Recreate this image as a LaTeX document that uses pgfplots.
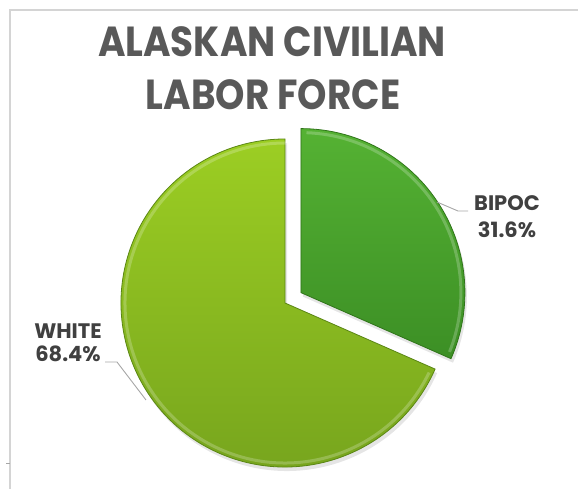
\documentclass[border=0pt]{standalone}
\usepackage{pgfplots}
\pgfplotsset{compat=1.18}
\usepackage{pgfplotstable}
\usepackage{fontspec}
\setmainfont{Poppins}
\definecolor{titlegray}{HTML}{595959}
\definecolor{labelgray}{HTML}{404040}
\definecolor{framegray}{HTML}{D4D4D4}
\definecolor{leadergray}{HTML}{A6A6A6}
\definecolor{btop}{HTML}{55B233}
\definecolor{bbot}{HTML}{3C8F25}
\definecolor{bedge}{HTML}{2F7419}
\definecolor{wtop}{HTML}{9CCE23}
\definecolor{wbot}{HTML}{75A31D}
\definecolor{wedge}{HTML}{5A8614}

\pgfplotstableread{
label value
BIPOC 31.6
WHITE 68.4
}\piedata

\begin{document}%
\begin{tikzpicture}
\pgfplotstablegetelem{0}{value}\of\piedata \let\vb\pgfplotsretval
\pgfplotstablegetelem{1}{value}\of\piedata \let\vw\pgfplotsretval
\pgfmathsetmacro\aend{90-3.6*\vb}
\pgfmathsetmacro\amid{90-1.8*\vb}
\pgfmathsetmacro\wend{\aend-3.6*\vw}
\def\cx{285}\def\cy{186}\def\r{164}\def\ex{19}
\pgfmathsetmacro\bx{\cx+\ex*cos(\amid)}
\pgfmathsetmacro\by{\cy+\ex*sin(\amid)}
\begin{axis}[
  scale only axis, width=578pt, height=489pt,
  xmin=0, xmax=578, ymin=0, ymax=489,
  hide axis, clip=false, anchor=south west, at={(0pt,0pt)},
]
% shadows
\addplot[draw=none, fill=black, opacity=0.10, shift={(2pt,-4pt)}] coordinates {(\bx,\by)} -- ++(90:\r pt) arc[start angle=90, end angle=\aend, radius=\r pt] -- cycle;
\addplot[draw=none, fill=black, opacity=0.10, shift={(2pt,-4pt)}] coordinates {(\cx,\cy)} -- ++(\aend:\r pt) arc[start angle=\aend, end angle=\wend, radius=\r pt] -- cycle;
% BIPOC wedge
\addplot[draw=bedge, line width=0.8pt, top color=btop, bottom color=bbot] coordinates {(\bx,\by)} -- ++(90:\r pt) arc[start angle=90, end angle=\aend, radius=\r pt] -- cycle;
% WHITE wedge
\addplot[draw=wedge, line width=0.8pt, top color=wtop, bottom color=wbot] coordinates {(\cx,\cy)} -- ++(\aend:\r pt) arc[start angle=\aend, end angle=\wend, radius=\r pt] -- cycle;
% bevel highlights along the arcs
\addplot[draw=white, draw opacity=0.22, line width=3pt] coordinates {(\bx,\by)} ++(88:\r pt-4pt) arc[start angle=88, end angle=\aend+2, radius=\r pt-4pt];
\addplot[draw=white, draw opacity=0.22, line width=3pt] coordinates {(\cx,\cy)} ++(\aend-2:\r pt-4pt) arc[start angle=\aend-2, end angle=\wend-2, radius=\r pt-4pt];
% leader lines
\addplot[leadergray, line width=0.9pt] coordinates {(437,287) (458,278) (468,278)};
\addplot[leadergray, line width=0.9pt] coordinates {(105,127) (117,127) (146,89)};
% frame
\addplot[framegray, line width=1.5pt] coordinates {(10,0) (10,479) (578,479)};
\addplot[leadergray, line width=0.8pt] coordinates {(6,26) (10,26)};
\end{axis}
\node[anchor=base, text=titlegray, font=\fontsize{42}{46}\selectfont\bfseries] at (272pt,432pt) {\scalebox{0.89}[1]{ALASKAN CIVILIAN}};
\node[anchor=base, text=titlegray, font=\fontsize{42}{46}\selectfont\bfseries] at (273pt,379pt) {\scalebox{0.89}[1]{LABOR FORCE}};
\node[anchor=base, text=labelgray, font=\fontsize{21}{24}\selectfont\bfseries] at (507pt,278pt) {BIPOC};
\node[anchor=base, text=labelgray, font=\fontsize{21}{24}\selectfont\bfseries] at (507pt,251pt) {31.6\%};
\node[anchor=base, text=labelgray, font=\fontsize{21}{24}\selectfont\bfseries] at (68pt,150pt) {WHITE};
\node[anchor=base, text=labelgray, font=\fontsize{21}{24}\selectfont\bfseries] at (68pt,127pt) {68.4\%};
\pgfresetboundingbox
\useasboundingbox (0pt,0pt) rectangle (578pt,489pt);
\end{tikzpicture}%
\end{document}
